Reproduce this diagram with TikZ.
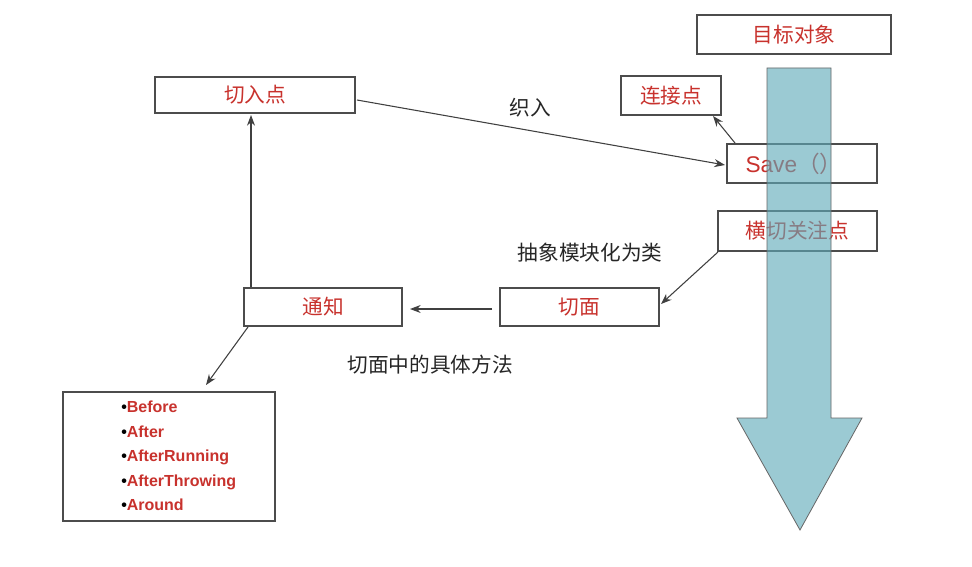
\documentclass[tikz,border=0pt]{standalone}
\usepackage{fontspec}
\setmainfont{Liberation Sans}
\newfontfamily\cjk{Noto Sans CJK SC}
\usetikzlibrary{arrows.meta}
\definecolor{tred}{RGB}{200,50,45}
\definecolor{tealc}{RGB}{95,170,185}
\begin{document}
\begin{tikzpicture}[x=0.75pt,y=-0.75pt,
  bxline/.style={draw=black!70,line width=0.8pt,fill=white},
  bx/.style={inner sep=0pt,text=tred,font=\cjk\fontsize{15.5}{18}\selectfont},
  lbl/.style={text=black!85,font=\cjk\fontsize{15.5}{18}\selectfont},
  con/.style={draw=black!75,line width=0.8pt,-{Stealth[length=8pt,width=6pt]}}]
\useasboundingbox (0,0) rectangle (972,567);
\fill[white] (0,0) rectangle (972,567);
\draw[bxline] (697,15) rectangle (891,54);
\node[bx] (tgt) at (794,34.5) {目标对象};
\draw[bxline] (155,77) rectangle (355,113);
\node[bx] (qrd) at (255,95) {切入点};
\draw[bxline] (621,76) rectangle (721,115);
\node[bx] (ljd) at (671,95.5) {连接点};
\draw[bxline] (727,144) rectangle (877,183);
\node[bx,font=\fontsize{17}{18}\selectfont] (save) at (794,163.5) {Save{\cjk（）}};
\draw[bxline] (718,211) rectangle (877,251);
\node[bx] (hq) at (797.5,231) {横切关注点};
\draw[bxline] (500,288) rectangle (659,326);
\node[bx] (qm) at (579.5,307) {切面};
\draw[bxline] (244,288) rectangle (402,326);
\node[bx] (tz) at (323,307) {通知};
\draw[bxline] (63,392) rectangle (275,521);
\node[anchor=west,text=tred,font=\bfseries\fontsize{12}{18.4}\selectfont,align=left,inner sep=0pt] (list) at (121,456)
 {\textcolor{black}{\textbullet}Before\\\textcolor{black}{\textbullet}After\\\textcolor{black}{\textbullet}AfterRunning\\\textcolor{black}{\textbullet}AfterThrowing\\\textcolor{black}{\textbullet}Around};
% big arrow
\path[fill=tealc,fill opacity=0.62,draw=black!60,line width=0.6pt]
  (767,68) -- (831,68) -- (831,418) -- (862,418) -- (800,530) -- (737,418) -- (767,418) -- cycle;
% labels
\node[lbl] (l1) at (530,108) {织入};
\node[lbl] (l2) at (590,253) {抽象模块化为类};
\node[lbl] (l3) at (430,365) {切面中的具体方法};
% connectors
\coordinate (a1) at (357,100); \coordinate (a2) at (725,165);
\draw[con] (a1) -- (a2);
\coordinate (b1) at (735,143); \coordinate (b2) at (713,116);
\draw[con] (b1) -- (b2);
\coordinate (c1) at (718,252); \coordinate (c2) at (661,304);
\draw[con] (c1) -- (c2);
\coordinate (d1) at (492,309); \coordinate (d2) at (410,309);
\draw[con] (d1) -- (d2);
\coordinate (e1) at (251,287); \coordinate (e2) at (251,115);
\draw[con] (e1) -- (e2);
\coordinate (f1) at (248,327); \coordinate (f2) at (206,385);
\draw[con] (f1) -- (f2);
\end{tikzpicture}
\end{document}
